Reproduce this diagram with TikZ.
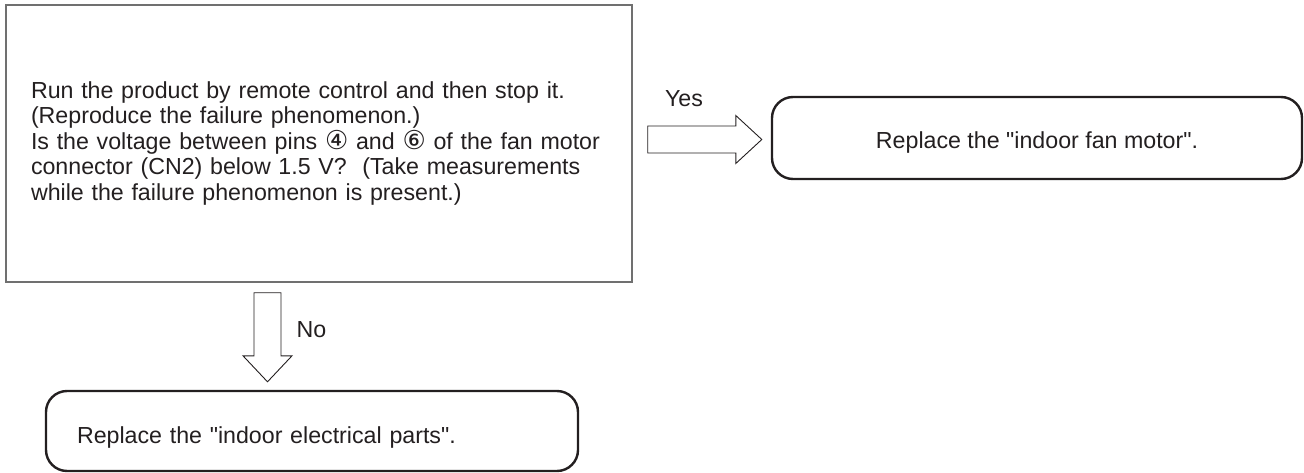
\documentclass[tikz,border=0pt]{standalone}
\usepackage{fontspec}
\setmainfont{Liberation Sans}
\newfontfamily\circfont{DejaVu Sans}
\usetikzlibrary{calc}
\definecolor{ink}{HTML}{231F20}
\definecolor{framegray}{HTML}{707070}
\newcommand\cdig[1]{{\circfont\scalebox{1.12}{#1}}}
\begin{document}
\begin{tikzpicture}[x=1pt,y=1pt,
  txt/.style={font=\fontsize{23.2}{25.5}\selectfont, text=ink},
  qbox/.style={draw=framegray, line width=1.4pt, rectangle, txt, inner xsep=25pt, inner ysep=0pt, text width=576pt, align=left, minimum height=277pt},
  rbox/.style={draw=ink, line width=2.4pt, rounded corners=21pt, txt, inner sep=0pt},
  barrow/.style={draw=ink, line width=0.9pt, line join=miter},
  lbl/.style={txt, inner sep=0pt}]
\useasboundingbox (0,0) rectangle (1304,472);
\node[qbox] (q) at (319,328.5) {Run the product by remote control and then stop it.\\
(Reproduce the failure phenomenon.)\\
\mbox{Is the voltage between pins \cdig{④} and \cdig{⑥} of the fan motor}\\
connector (CN2) below 1.5 V?\ \ (Take measurements\\
while the failure phenomenon is present.)};
\node[rbox, minimum width=530pt, minimum height=82pt, align=center] (fan) at (1037,334) {\raisebox{-4pt}[17.5pt][5pt]{Replace the \textquotedbl indoor fan motor\textquotedbl.}};
\node[rbox, minimum width=532pt, minimum height=80pt, text width=470pt, inner xsep=31pt, align=left] (elec) at (312,41) {\raisebox{-6pt}[17.5pt][5pt]{Replace the \textquotedbl indoor electrical parts\textquotedbl.}};
\coordinate (ya) at ($(q.east)+(15,4)$);
\coordinate (yb) at ($(fan.west)+(-9,-1.5)$);
\coordinate (na) at ($(q.south)+(-51.5,-10)$);
\coordinate (nb) at ($(elec.north)+(-44.5,8)$);
\draw[barrow] ($(ya)+(0,13.5)$) -- ($(yb)+(-26,13.5)$) -- ($(yb)+(-26,24)$) -- (yb) -- ($(yb)+(-26,-24)$) -- ($(yb)+(-26,-13.5)$) -- ($(ya)+(0,-13.5)$) -- cycle;
\draw[barrow] ($(na)+(-13.5,0)$) -- ($(nb)+(-13.5,26)$) -- ($(nb)+(-24.5,26)$) -- (nb) -- ($(nb)+(24.5,26)$) -- ($(nb)+(13.5,26)$) -- ($(na)+(13.5,0)$) -- cycle;
\node[lbl] (yes) at (684,373) {Yes};
\node[lbl] (no) at (311.5,142) {No};
\end{tikzpicture}
\end{document}
